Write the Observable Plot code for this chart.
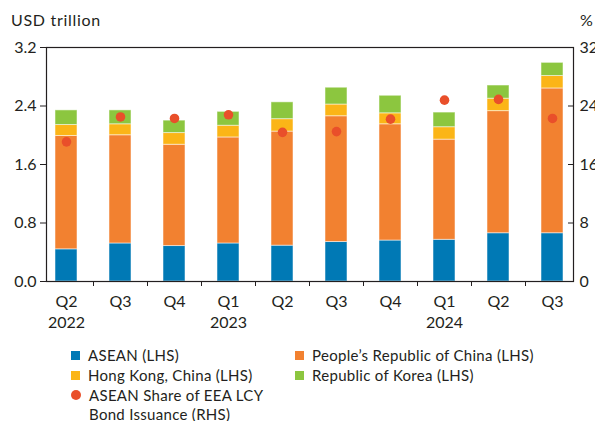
<!DOCTYPE html>
<html><head><meta charset="utf-8">
<script src="https://cdn.jsdelivr.net/npm/d3@7"></script>
<script src="https://cdn.jsdelivr.net/npm/@observablehq/plot@0.6"></script>
<style>
body{margin:0;background:#fff;font-family:Lato,sans-serif;color:#231f20}
#wrap{position:relative;width:595px;height:421px;overflow:hidden}
.hdr{position:absolute;top:10px;font-size:16px;line-height:20px;letter-spacing:0.7px}
#chart{position:absolute;left:0;top:34px}
#legend{position:absolute;left:71px;top:345px;display:grid;grid-template-columns:224px 270px;font-size:15px;line-height:20px;letter-spacing:0.3px}
.it{display:flex;align-items:flex-start}
.sw{width:9px;height:9px;margin:6px 8px 0 0;flex:none}
.dt{width:10px;height:10px;border-radius:50%;margin:5px 8px 0 0;flex:none}
</style></head><body><div id="wrap">
<div class="hdr" style="left:11px">USD trillion</div>
<div class="hdr" style="left:580px">%</div>
<div id="chart"></div>
<div id="legend"></div>
</div>
<script>
const periods = ["2022Q2","2022Q3","2022Q4","2023Q1","2023Q2","2023Q3","2023Q4","2024Q1","2024Q2","2024Q3"];
const quarters = ["Q2","Q3","Q4","Q1","Q2","Q3","Q4","Q1","Q2","Q3"];
const years = ["2022","","","2023","","","","2024","",""];
const series = ["ASEAN (LHS)","People’s Republic of China (LHS)","Hong Kong, China (LHS)","Republic of Korea (LHS)"];
const colors = ["#0079b5","#f28130","#fbb517","#8cc63f"];
const asean = [0.44,0.52,0.485,0.52,0.49,0.54,0.56,0.57,0.66,0.66];
const prc   = [1.55,1.48,1.385,1.45,1.56,1.72,1.59,1.37,1.67,1.98];
const hk    = [0.15,0.15,0.16,0.16,0.17,0.16,0.15,0.17,0.17,0.17];
const korea = [0.20,0.19,0.17,0.19,0.23,0.23,0.24,0.20,0.18,0.18];
const aseanShare = [19.1,22.5,22.3,22.8,20.4,20.5,22.2,24.8,24.9,22.3];
const dotLabel = "ASEAN Share of EEA LCY Bond Issuance (RHS)";
const dotColor = "#e94f2a";
const leftTicks = [0,0.8,1.6,2.4,3.2];
const rightTicks = [0,8,16,24,32];

const values = [asean, prc, hk, korea];
const rows = [];
periods.forEach((p,i)=>series.forEach((s,j)=>rows.push({period:p, series:s, value:values[j][i]})));
const dots = periods.map((p,i)=>({period:p, share:aseanShare[i]}));
const label = p => { const i = periods.indexOf(p); return years[i] ? quarters[i] + "\n" + years[i] : quarters[i]; };
const rScale = 3.2/32;

const chart = Plot.plot({
  width: 595, height: 301,
  marginLeft: 46, marginRight: 22, marginTop: 13, marginBottom: 54,
  style: {fontFamily: "Lato, sans-serif", fontSize: "16px", color: "#231f20", background: "white"},
  x: {domain: periods, paddingInner: 0.59, paddingOuter: 0.17},
  y: {domain: [0, 3.2]},
  color: {domain: series, range: colors},
  marks: [
    Plot.barY(rows, Plot.stackY({order: series}, {x: "period", y: "value", fill: "series", stroke: "white", strokeOpacity: 0.5, strokeWidth: 1})),
    Plot.dot(dots, {x: "period", y: d => d.share * rScale, r: 4.8, fill: dotColor}),
    Plot.frame({stroke: "#231f20", strokeWidth: 1.2}),
    Plot.axisY({ticks: leftTicks, tickFormat: d3.format(".1f"), tickSize: 6, tickPadding: 4, label: null}),
    Plot.axisY({anchor: "right", ticks: rightTicks.map(t => t * rScale), tickFormat: d => String(Math.round(d / rScale)), tickSize: -6, tickPadding: 12, label: null}),
    Plot.axisX({tickSize: 0, tickPadding: 10, tickFormat: label, lineHeight: 1.32, label: null}),
    Plot.axisX({ticks: periods.slice(0, -1), tickSize: 5, text: null, dx: 27, label: null})
  ]
});
document.getElementById("chart").append(chart);

const lg = document.getElementById("legend");
const items = series.map((s,i)=>({name:s, color:colors[i], dot:false}));
items.push({name: dotLabel, color: dotColor, dot: true});
items.forEach(it=>{
  const d = document.createElement("div"); d.className = "it";
  const m = document.createElement("span"); m.className = it.dot ? "dt" : "sw"; m.style.background = it.color;
  const t = document.createElement("span"); t.textContent = it.name;
  if (it.dot) { t.style.width = "190px"; t.style.lineHeight = "19px"; t.style.marginTop = "1px"; }
  d.append(m, t); lg.append(d);
});
</script></body></html>
